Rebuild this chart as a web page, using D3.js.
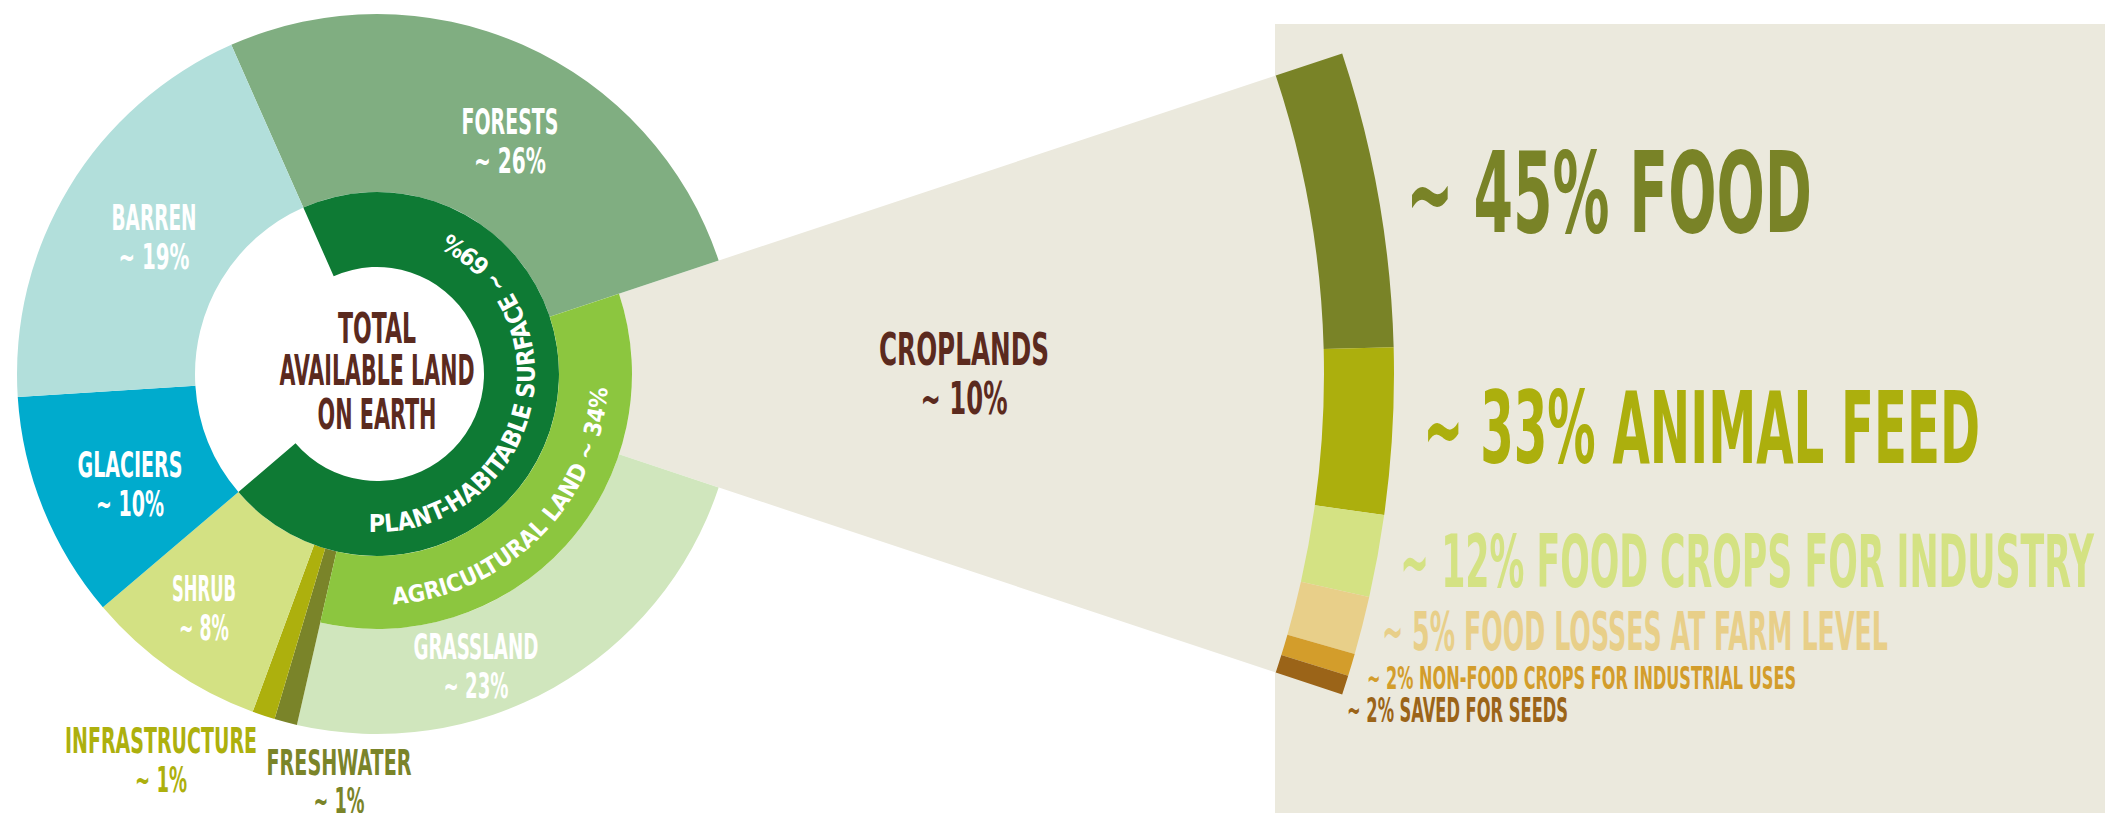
<!DOCTYPE html>
<html><head><meta charset="utf-8">
<script src="https://cdn.jsdelivr.net/npm/d3@7"></script>
<style>
html,body{margin:0;padding:0;background:#fff;overflow:hidden;}
svg{display:block;}
text{font-family:"Liberation Sans Narrow","DejaVu Sans Condensed","Roboto",sans-serif;font-weight:bold;}
</style></head><body>
<svg id="chart" width="2105" height="813"></svg>
<script>
// ---------------- DATA ----------------
const landCategories = ["FORESTS","CROPLANDS","GRASSLAND","FRESHWATER","INFRASTRUCTURE","SHRUB","GLACIERS","BARREN"];
const landShares     = [26, 10, 23, 1, 1, 8, 10, 19];
const plantHabitableMembers = ["FORESTS","CROPLANDS","GRASSLAND","FRESHWATER","INFRASTRUCTURE","SHRUB"];
const plantHabitableShare = 69;
const agriculturalMembers = ["CROPLANDS","GRASSLAND"];
const agriculturalShare = 34;
const centerTitle = ["TOTAL","AVAILABLE LAND","ON EARTH"];
const cropUseCategories = ["FOOD","ANIMAL FEED","FOOD CROPS FOR INDUSTRY","FOOD LOSSES AT FARM LEVEL","NON-FOOD CROPS FOR INDUSTRIAL USES","SAVED FOR SEEDS"];
const cropUseShares    = [45, 33, 12, 5, 2, 2];
// widths of the bands as they are drawn in the picture (share of the croplands arc)
const cropUseArcShares = [45.9, 25.8, 12.8, 9.0, 3.5, 3.0];

// ---------------- STYLE / LAYOUT ----------------
const landColors = ["#80ae81","#ebe9dd","#d0e6bd","#7a8429","#adb00d","#d3e183","#00abcd","#b2dfdb"];
const cropUseColors = ["#798327","#acaf0d","#d4e283","#e8cf89","#d39d2b","#9b6418"];
const plantColor = "#0e7a34", agriColor = "#8cc63f", beige = "#ebe9dd", brown = "#5b2a1e";
const cx = 377, cy = 374;
const R = {hole:107, plant:182, agri:255, outer:360, bandIn:947, bandOut:1017};
const innerByCat = {"CROPLANDS":R.agri, "GRASSLAND":R.agri};

const landLabelLayout = [
  {x:510, y:134, w1:97,  w2:72, fill:"#fff", size:35, gap:39},
  {x:964, y:365, w1:170, w2:87, fill:brown,  size:45, gap:49},
  {x:476, y:659, w1:125, w2:65, fill:"#fff", size:35, gap:39},
  {x:339, y:775, w1:145, w2:51, fill:"#7a8429", size:35, gap:38},
  {x:161, y:753, w1:192, w2:52, fill:"#adb00d", size:35, gap:39},
  {x:204, y:601, w1:64,  w2:50, fill:"#fff", size:35, gap:39},
  {x:130, y:477, w1:105, w2:68, fill:"#fff", size:35, gap:39},
  {x:154, y:230, w1:85,  w2:71, fill:"#fff", size:35, gap:39}
];
const cropLabelLayout = [
  {x:1406, y:232, size:112, w:406},
  {x:1423, y:463, size:99,  w:557},
  {x:1400, y:587, size:73,  w:694},
  {x:1382, y:650, size:53,  w:506},
  {x:1367, y:689, size:32,  w:429},
  {x:1347, y:722, size:33,  w:221}
];
const centerLayout = [{y:343,w:78},{y:385,w:195},{y:429,w:119}];

// ---------------- DRAW ----------------
const svg = d3.select("#chart");
const g = svg.append("g").attr("transform", `translate(${cx},${cy})`);

const total = d3.sum(landShares);
const startA = Math.PI/2 - (landShares[0] + landShares[1]/2) / total * 2*Math.PI;
const pie = d3.pie().sort(null).value(d => d).startAngle(startA).endAngle(startA + 2*Math.PI);
const landArcs = pie(landShares).map((a,i) => Object.assign(a, {cat: landCategories[i]}));
const crop = landArcs[landCategories.indexOf("CROPLANDS")];

// beige panel
svg.insert("rect", "g").attr("x", 1275).attr("y", 24).attr("width", 2105-1275).attr("height", 813-24).attr("fill", beige);

// croplands wedge
g.append("path").attr("fill", beige)
  .attr("d", d3.arc().innerRadius(R.agri).outerRadius(R.bandIn)(crop));

// outer land ring
g.selectAll("path.land").data(landArcs.filter(a => a.cat !== "CROPLANDS")).join("path")
  .attr("class","land")
  .attr("fill", d => landColors[landCategories.indexOf(d.cat)])
  .attr("d", d => d3.arc().innerRadius(innerByCat[d.cat] || R.plant).outerRadius(R.outer)(d));

// plant-habitable ring
const ph = landArcs.filter(a => plantHabitableMembers.includes(a.cat));
const phArc = {startAngle: d3.min(ph, d => d.startAngle), endAngle: d3.max(ph, d => d.endAngle)};
g.append("path").attr("fill", plantColor)
  .attr("d", d3.arc().innerRadius(R.hole).outerRadius(R.plant)(phArc));

// agricultural ring
const ag = landArcs.filter(a => agriculturalMembers.includes(a.cat));
const agArc = {startAngle: d3.min(ag, d => d.startAngle), endAngle: d3.max(ag, d => d.endAngle)};
g.append("path").attr("fill", agriColor)
  .attr("d", d3.arc().innerRadius(R.plant).outerRadius(R.agri)(agArc));

// crop use bands
const bandPie = d3.pie().sort(null).value(d => d).startAngle(crop.startAngle).endAngle(crop.endAngle);
g.selectAll("path.band").data(bandPie(cropUseArcShares)).join("path")
  .attr("class","band")
  .attr("fill", (d,i) => cropUseColors[i])
  .attr("d", d3.arc().innerRadius(R.bandIn).outerRadius(R.bandOut));

// ---------------- TEXT ----------------
function fitText(sel, w) {
  sel.attr("textLength", w).attr("lengthAdjust", "spacingAndGlyphs");
  return sel;
}
// land labels
landArcs.forEach((a,i) => {
  const L = landLabelLayout[i];
  fitText(svg.append("text").attr("x", L.x).attr("y", L.y).attr("text-anchor","middle")
    .attr("font-size", L.size).attr("fill", L.fill).text(a.cat), L.w1);
  fitText(svg.append("text").attr("x", L.x).attr("y", L.y + L.gap).attr("text-anchor","middle")
    .attr("font-size", L.size).attr("fill", L.fill).text("~ " + landShares[i] + "%"), L.w2);
});
// centre title
centerTitle.forEach((t,i) => {
  fitText(svg.append("text").attr("x", cx).attr("y", centerLayout[i].y).attr("text-anchor","middle")
    .attr("font-size", 42).attr("fill", brown).text(t), centerLayout[i].w);
});
// crop use labels
cropUseCategories.forEach((c,i) => {
  const L = cropLabelLayout[i];
  fitText(svg.append("text").attr("x", L.x).attr("y", L.y).attr("font-size", L.size)
    .attr("fill", cropUseColors[i]).text("~ " + cropUseShares[i] + "% " + c), L.w);
});

// curved ring labels (read anticlockwise, letters facing the centre)
function curved(id, str, r, a0deg, a1deg, size) {
  const rad = d => (d - 90) * Math.PI/180;
  const p = d3.path();
  p.arc(cx, cy, r, rad(a0deg), rad(a1deg), true);
  svg.append("path").attr("id", id).attr("d", p.toString()).attr("fill","none");
  const target = r * (a0deg - a1deg) * Math.PI/180;
  const t = svg.append("text").attr("font-size", size).attr("fill", "#fff");
  const tp = t.append("textPath").attr("href", "#" + id).text(str);
  const L = tp.node().getComputedTextLength();
  if (L > target) {
    t.attr("font-size", size * target / L);
  } else {
    t.attr("letter-spacing", (target - L) / str.length);
  }
}
curved("phPath", "PLANT-HABITABLE SURFACE ~ " + plantHabitableShare + "%", 158, 183, 27, 30);
curved("agPath", "AGRICULTURAL LAND ~ " + agriculturalShare + "%", 231, 176, 93.5, 29);
</script>
</body></html>
